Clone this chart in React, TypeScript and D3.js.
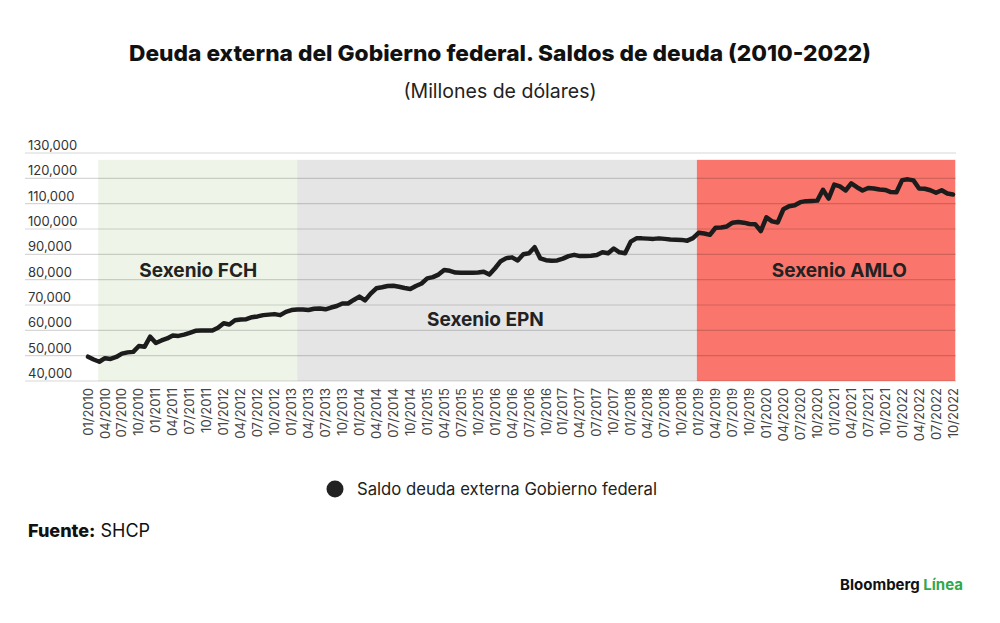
import React from 'react'
import * as d3 from 'd3'

// Saldo mensual de la deuda externa del Gobierno federal (millones de dólares), 01/2010 - 10/2022
const deuda = [
  49600, 48500, 47600, 49000, 48700, 49500, 50800, 51300, 51500, 53800,
  53500, 57500, 55000, 56000, 56800, 58000, 57800, 58300, 59000, 59800,
  59900, 59900, 59900, 61000, 62800, 62300, 64000, 64300, 64400, 65200,
  65500, 66000, 66200, 66400, 66000, 67300, 68000, 68200, 68200, 68000,
  68500, 68600, 68300, 69000, 69600, 70600, 70600, 72000, 73300, 71800,
  74500, 76600, 77000, 77500, 77600, 77200, 76700, 76300, 77500, 78500,
  80500, 81000, 82000, 83800, 83500, 82800, 82700, 82700, 82700, 82800,
  83100, 82000, 84500, 87300, 88500, 88800, 87600, 90000, 90400, 92800,
  88400, 87700, 87500, 87600, 88300, 89300, 89800, 89300, 89300, 89400,
  89700, 90800, 90400, 92300, 90800, 90400, 95000, 96300, 96300, 96200,
  96100, 96300, 96100, 95900, 95800, 95700, 95400, 96400, 98500, 98200,
  97700, 100500, 100600, 101000, 102500, 102800, 102500, 102000, 101900, 99200,
  104600, 103000, 102600, 107800, 109000, 109400, 110600, 111000, 111100, 111200,
  115500, 112000, 117500, 116800, 115200, 118000, 116500, 115200, 116200, 116000,
  115600, 115400, 114600, 114500, 119300, 119600, 119200, 116000, 115900, 115300,
  114300, 115300, 114000, 113600,
]

const xTickLabels = [
  '01/2010', '04/2010', '07/2010', '10/2010', '01/2011', '04/2011', '07/2011', '10/2011',
  '01/2012', '04/2012', '07/2012', '10/2012', '01/2013', '04/2013', '07/2013', '10/2013',
  '01/2014', '04/2014', '07/2014', '10/2014', '01/2015', '04/2015', '07/2015', '10/2015',
  '01/2016', '04/2016', '07/2016', '10/2016', '01/2017', '04/2017', '07/2017', '10/2017',
  '01/2018', '04/2018', '07/2018', '10/2018', '01/2019', '04/2019', '07/2019', '10/2019',
  '01/2020', '04/2020', '07/2020', '10/2020', '01/2021', '04/2021', '07/2021', '10/2021',
  '01/2022', '04/2022', '07/2022', '10/2022',
]

const yTicks = [40000, 50000, 60000, 70000, 80000, 90000, 100000, 110000, 120000, 130000]

// sexenios, in month index of the series
const sexenios = [
  { name: 'Sexenio FCH', start: 1.8, end: 37, fill: '#eef5e8' },
  { name: 'Sexenio EPN', start: 37, end: 107.7, fill: '#e5e5e5' },
  { name: 'Sexenio AMLO', start: 107.7, end: 153.4, fill: '#fa756b' },
]

// where each sexenio name sits (month index, value)
const sexenioLabels = [
  { name: 'Sexenio FCH', at: 19.5, value: 81200 },
  { name: 'Sexenio EPN', at: 70.3, value: 61800 },
  { name: 'Sexenio AMLO', at: 132.9, value: 81200 },
]

const FONT = "Inter, 'Liberation Sans', Arial, sans-serif"

export default function App() {
  const x = d3.scaleLinear().domain([0, deuda.length - 1]).range([88, 953])
  const y = d3.scaleLinear().domain([40000, 130000]).range([381, 153])
  const fmt = d3.format(',')

  const line = d3.line<number>()
    .x((_, i) => x(i))
    .y(d => y(d))
    .curve(d3.curveLinear)

  return (
    <svg
      width={1000}
      height={623}
      style={{ position: 'absolute', left: 0, top: 0, background: '#fff', fontFamily: FONT }}
    >
      <rect width={1000} height={623} fill="#fff" />

      {/* titles */}
      <text x={500} y={61} textAnchor="middle" fontSize={22} fontWeight={800} fill="#111"
        textLength={742} lengthAdjust="spacingAndGlyphs">
        Deuda externa del Gobierno federal. Saldos de deuda (2010-2022)
      </text>
      <text x={500} y={98} textAnchor="middle" fontSize={19.5} fill="#222">
        (Millones de dólares)
      </text>

      {/* sexenio shading */}
      {sexenios.map(s => (
        <rect key={s.name} x={x(s.start)} width={x(s.end) - x(s.start)}
          y={y(127300)} height={y(40000) - y(127300)} fill={s.fill} />
      ))}

      {/* grid + y labels */}
      {yTicks.map(t => (
        <g key={t}>
          <line x1={25} x2={956} y1={y(t)} y2={y(t)} stroke="#000" strokeOpacity={0.16} strokeWidth={1.2} />
          <text x={28} y={y(t) - 3} fontSize={13} fill="#333">{fmt(t)}</text>
        </g>
      ))}

      {sexenioLabels.map(l => (
        <text key={l.name} x={x(l.at)} y={y(l.value)} textAnchor="middle" fontSize={19}
          fontWeight={700} fill="#222">{l.name}</text>
      ))}

      {/* series */}
      <path d={line(deuda) ?? ''} fill="none" stroke="#1c1c1c" strokeWidth={4.5}
        strokeLinejoin="round" strokeLinecap="round" />

      {/* x labels */}
      {xTickLabels.map((lab, k) => (
        <text key={lab} transform={`translate(${x(k * 3)},388) rotate(-90)`} textAnchor="end"
          dy="0.35em" fontSize={13} fill="#444">{lab}</text>
      ))}

      {/* legend */}
      <circle cx={335} cy={489} r={8.5} fill="#222" />
      <text x={357} y={495} fontSize={16.7} fill="#222">Saldo deuda externa Gobierno federal</text>

      {/* source */}
      <text x={28} y={537} fontSize={18} fill="#111">
        <tspan fontWeight={800}>Fuente:</tspan>
        <tspan> SHCP</tspan>
      </text>

      <text x={963} y={590} textAnchor="end" fontSize={15} fontWeight={700} fill="#111">
        Bloomberg <tspan fill="#2fa84f">Línea</tspan>
      </text>
    </svg>
  )
}
